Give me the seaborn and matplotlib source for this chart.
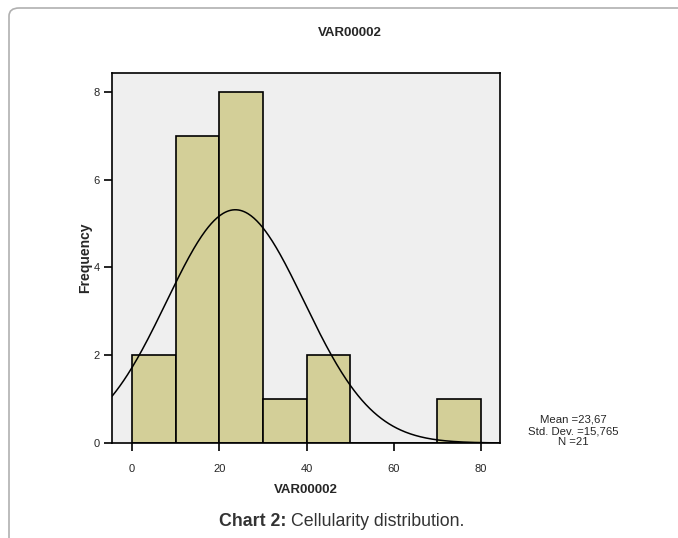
import numpy as np
import pandas as pd
import matplotlib
matplotlib.use("Agg")
import matplotlib.pyplot as plt
from matplotlib.patches import FancyBboxPatch
import seaborn as sns

# Data
bin_centers = [5, 15, 25, 35, 45, 55, 65, 75]
counts = [2, 7, 8, 1, 2, 0, 0, 1]
bin_edges = [0, 10, 20, 30, 40, 50, 60, 70, 80]
x_ticks = [0, 20, 40, 60, 80]
y_ticks = [0, 2, 4, 6, 8]
stat_mean = 23.67
stat_sd = 15.765
stat_n = 21

sns.set_theme(style="white")
plt.rcParams['font.family'] = ['Liberation Sans', 'DejaVu Sans']

fig = plt.figure(figsize=(6.78, 5.38), dpi=100)
ax = fig.add_axes([112/678, 95/538, 388/678, 370/538])
ax.set_facecolor("#efefef")

df = pd.DataFrame({"VAR00002": bin_centers, "count": counts})
sns.histplot(data=df, x="VAR00002", weights="count", bins=bin_edges, ax=ax,
             color="#d3cf98", edgecolor="black", linewidth=1.2, alpha=1.0)

xmin, xmax = -4.6, 84.35
xs = np.linspace(xmin, xmax, 400)
binw = bin_edges[1] - bin_edges[0]
ys = stat_n * binw * np.exp(-0.5 * ((xs - stat_mean) / stat_sd) ** 2) / (stat_sd * np.sqrt(2 * np.pi))
sns.lineplot(x=xs, y=ys, ax=ax, color="black", linewidth=1.1)

ax.set_xlim(xmin, xmax)
ax.set_ylim(0, 8.43)
ax.set_xticks(x_ticks)
ax.set_yticks(y_ticks)
ax.tick_params(axis="both", direction="out", length=6, width=1.2, color="black",
               labelsize=8, bottom=True, left=True)
ax.tick_params(axis="x", pad=9)
ax.tick_params(axis="y", pad=3)
for s in ax.spines.values():
    s.set_color("black")
    s.set_linewidth(1.2)

ax.set_xlabel("VAR00002", fontsize=9.5, fontweight="bold", labelpad=7)
ax.set_ylabel("Frequency", fontsize=10, fontweight="bold", labelpad=0)
ax.yaxis.set_label_coords(-(112 - 92) / 388, 0.5)
fig.text(350 / 678, 1 - 33 / 538, "VAR00002", ha="center", va="center",
         fontsize=9.5, fontweight="bold")

fig.text(573 / 678, 1 - 431 / 538, "Mean =23,67\nStd. Dev. =15,765\nN =21",
         ha="center", va="center", fontsize=8.2, linespacing=1.15)

# Caption
t1 = fig.text(219 / 678, 1 - 522 / 538, "Chart 2:", ha="left", va="center",
              fontsize=12.8, fontweight="bold", color="#333333")
fig.canvas.draw()
bb = t1.get_window_extent(renderer=fig.canvas.get_renderer())
fig.text(bb.x1 / fig.bbox.width + 5 / 678, 1 - 522 / 538, "Cellularity distribution.",
         ha="left", va="center", fontsize=12.8, color="#333333")

# Outer frame
frame = FancyBboxPatch((9 / 678, -0.1), 1.2, (538 - 8) / 538 + 0.1,
                       boxstyle="round,pad=0,rounding_size=0.015",
                       transform=fig.transFigure, fill=False, edgecolor="#b0b0b0",
                       linewidth=1.2, clip_on=False)
fig.patches.append(frame)

fig.savefig("out.png", dpi=100)
